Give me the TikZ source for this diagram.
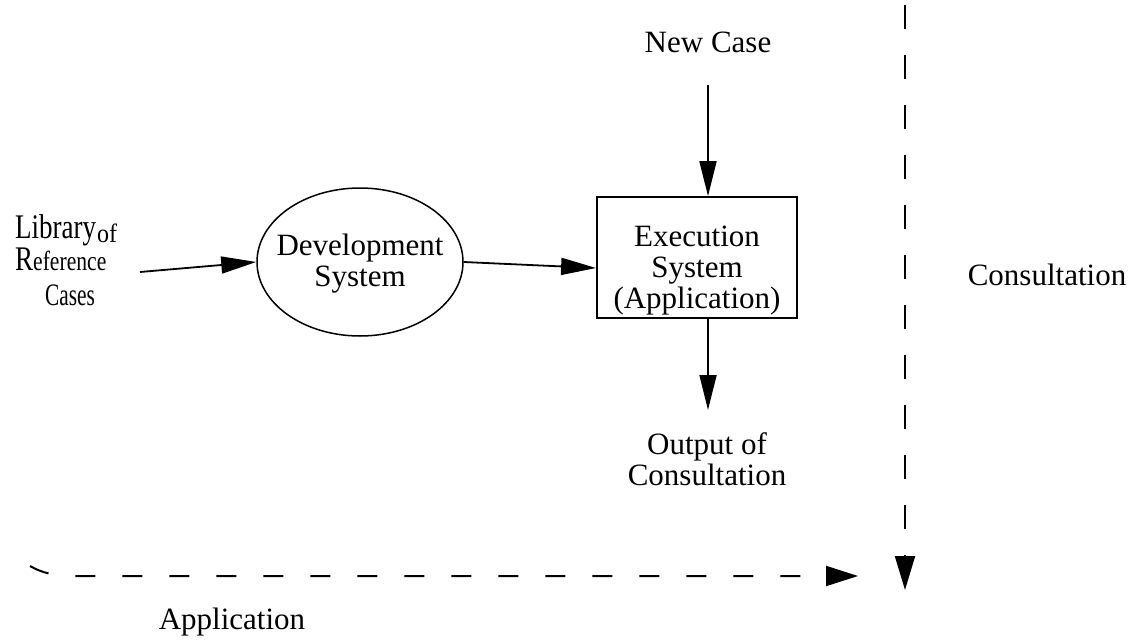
\documentclass[tikz,border=0pt]{standalone}
\usepackage{fontspec}
\usepackage{graphicx}
\setmainfont{Liberation Serif}
\usetikzlibrary{arrows.meta,shapes.geometric}
\begin{document}
\begin{tikzpicture}[x=1pt,y=-1pt,
  txt/.style={font=\fontsize{31}{31}\selectfont, inner sep=0pt, align=center},
  libtxt/.style={font=\fontsize{30}{30}\selectfont, inner sep=0pt, anchor=base west},
  flow/.style={line width=1.8pt, -{Triangle[length=35pt,width=17pt]}},
  dvflow/.style={line width=2pt, dash pattern=on 24pt off 26pt, -{Triangle[length=34pt,width=20pt]}},
  dhflow/.style={line width=2pt, dash pattern=on 20pt off 27pt, -{Triangle[length=32pt,width=20pt]}},
  devsys/.style={draw, line width=1.5pt, ellipse, minimum width=206pt, minimum height=148pt, inner sep=0pt},
  execbox/.style={draw, line width=1.8pt, minimum width=200pt, minimum height=121pt, inner sep=0pt}
]
\useasboundingbox (0,0) rectangle (1138,642);

% input library (condensed, tall lettering)
\node[libtxt] (lib1) at (15,238) {\scalebox{0.9}[1.15]{Library}};
\node[libtxt, font=\fontsize{24}{24}\selectfont] (lib1b) at (97,242) {\scalebox{1}[1.1]{of}};
\node[libtxt] (lib2) at (15,270) {\scalebox{0.9}[1.15]{R\fontsize{24}{24}\selectfont eference}};
\node[libtxt, font=\fontsize{26}{26}\selectfont] (lib3) at (45,305) {\scalebox{0.82}[1.2]{Cases}};
\coordinate (libout) at (140,272);

% main flow
\node[devsys] (dev) at (360,262) {};
\node[txt] (devtxt) at (360,264) {Development\\System};
\node[execbox] (exec) at (697,257.5) {};
\node[txt] (exectxt) at (697,271) {Execution\\System\\(Application)};
\node[txt] (new) at (708,42) {New Case};
\coordinate (newin) at (708,85);
\node[txt] (out) at (707,459) {Output of\\Consultation};
\coordinate (outtip) at (708,410);

\draw[flow] (libout) -- (dev.west);
\draw[flow] (dev.east) -- (exec.west |- 0,268);
\draw[flow] (newin) -- (newin |- exec.north);
\draw[flow] (outtip |- exec.south) -- (outtip);

% phase markers
\coordinate (ctop) at (905,5);
\coordinate (cbot) at (905,590);
\draw[dvflow] (ctop) -- (cbot);
\node[txt] (cons) at (1047,275) {Consultation};

\coordinate (aleft) at (30,566);
\coordinate (aright) at (858,576);
\draw[dhflow] (aleft) .. controls (42,573) and (55,576) .. (75,576) -- (aright);
\node[txt] (app) at (232,622) {Application};
\end{tikzpicture}
\end{document}
